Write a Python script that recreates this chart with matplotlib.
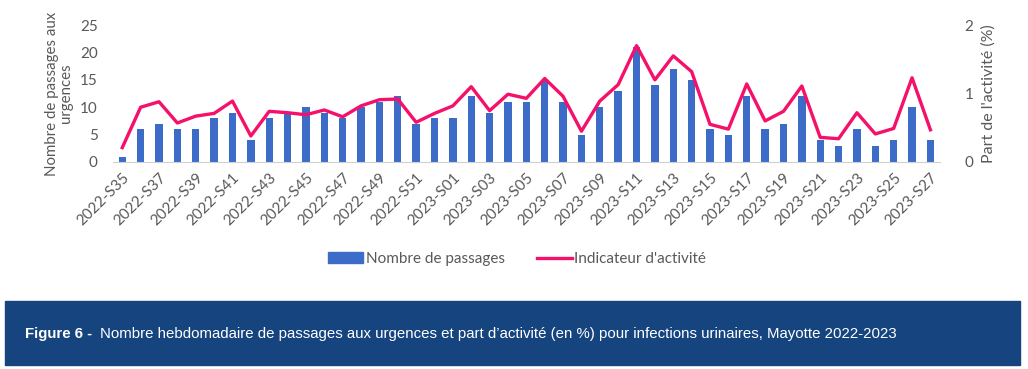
import matplotlib
matplotlib.use("Agg")
import matplotlib.pyplot as plt
from matplotlib.patches import Rectangle, Patch
from matplotlib.lines import Line2D

weeks = ["2022-S%02d" % w for w in range(35, 53)] + ["2023-S%02d" % w for w in range(1, 28)]

passages = [1, 6, 7, 6, 6, 8, 9, 4, 8, 9, 10, 9, 8, 10, 11, 12, 7, 8,
            8, 12, 9, 11, 11, 15, 11, 5, 10, 13, 21, 14, 17, 15, 6, 5,
            12, 6, 7, 12, 4, 3, 6, 3, 4, 10, 4]

part = [0.21, 0.80, 0.88, 0.57, 0.67, 0.71, 0.89, 0.38, 0.74, 0.72, 0.69, 0.76,
        0.66, 0.82, 0.91, 0.92, 0.58, 0.71, 0.82, 1.10, 0.75, 0.99, 0.93, 1.22,
        0.96, 0.45, 0.89, 1.13, 1.70, 1.20, 1.55, 1.32, 0.55, 0.48, 1.14, 0.60,
        0.74, 1.11, 0.36, 0.34, 0.72, 0.41, 0.49, 1.23, 0.47]

blue = "#3D6CC8"
pink = "#F5106A"
grey = "#595959"

plt.rcParams['font.family'] = ['Lato', 'DejaVu Sans']

fig = plt.figure(figsize=(10.28, 3.69), dpi=100)
ax = fig.add_axes([0.110, 0.561, 0.804, 0.371])
x = list(range(len(weeks)))
ax.bar(x, passages, width=0.4, color=blue, zorder=2)
ax.set_xlim(-0.5, len(weeks) - 0.5)
ax.set_ylim(0, 25)
ax.set_yticks([0, 5, 10, 15, 20, 25])
ax.set_xticks(x[::2])
ax.set_xticklabels(weeks[::2], rotation=45, ha="right", rotation_mode="anchor")
for s in ["top", "right", "left"]:
    ax.spines[s].set_visible(False)
ax.spines["bottom"].set_color("#D0D0D0")
ax.tick_params(axis="both", length=0, colors=grey, labelsize=11)
ax.tick_params(axis="y", pad=11)
ax.tick_params(axis="x", pad=6)
ax.set_ylabel("Nombre de passages aux\nurgences", fontsize=10.8, color=grey, labelpad=5,
              linespacing=1.05)

ax2 = ax.twinx()
ax2.plot(x, part, color=pink, lw=2.4, zorder=3)
ax2.set_ylim(0, 2)
ax2.set_yticks([0, 1, 2])
for s in ["top", "right", "left", "bottom"]:
    ax2.spines[s].set_visible(False)
ax2.tick_params(axis="y", length=0, colors=grey, labelsize=11, pad=18)
ax2.set_ylabel("Part de l'activité (%)", fontsize=11.5, color=grey, labelpad=6)

handles = [Patch(color=blue), Line2D([0], [0], color=pink, lw=2.4)]
fig.legend(handles, ["Nombre de passages", "Indicateur d'activité"], ncol=2,
           loc="center", bbox_to_anchor=(517 / 1028, 1 - 259 / 369), frameon=False,
           fontsize=11, labelcolor=grey, handlelength=2.3, handletextpad=0.15,
           columnspacing=2.1)

fig.patches.append(Rectangle((5 / 1028, 1 - 365 / 369), 1015 / 1028, 64 / 369,
                             transform=fig.transFigure, color="#15447F", zorder=0))
t1 = fig.text(25 / 1028, 1 - 334 / 369, "Figure 6 -  ", color="white", fontsize=10.8,
              fontweight="bold", va="center", family=["Liberation Sans", "DejaVu Sans"])
fig.canvas.draw()
bb = t1.get_window_extent(fig.canvas.get_renderer())
fig.text(bb.x1 / 1028, 1 - 334 / 369,
         "Nombre hebdomadaire de passages aux urgences et part d\u2019activité (en %) pour infections urinaires, Mayotte 2022-2023",
         color="white", fontsize=10.8, va="center", family=["Liberation Sans", "DejaVu Sans"])

fig.savefig("out.png", dpi=100)
